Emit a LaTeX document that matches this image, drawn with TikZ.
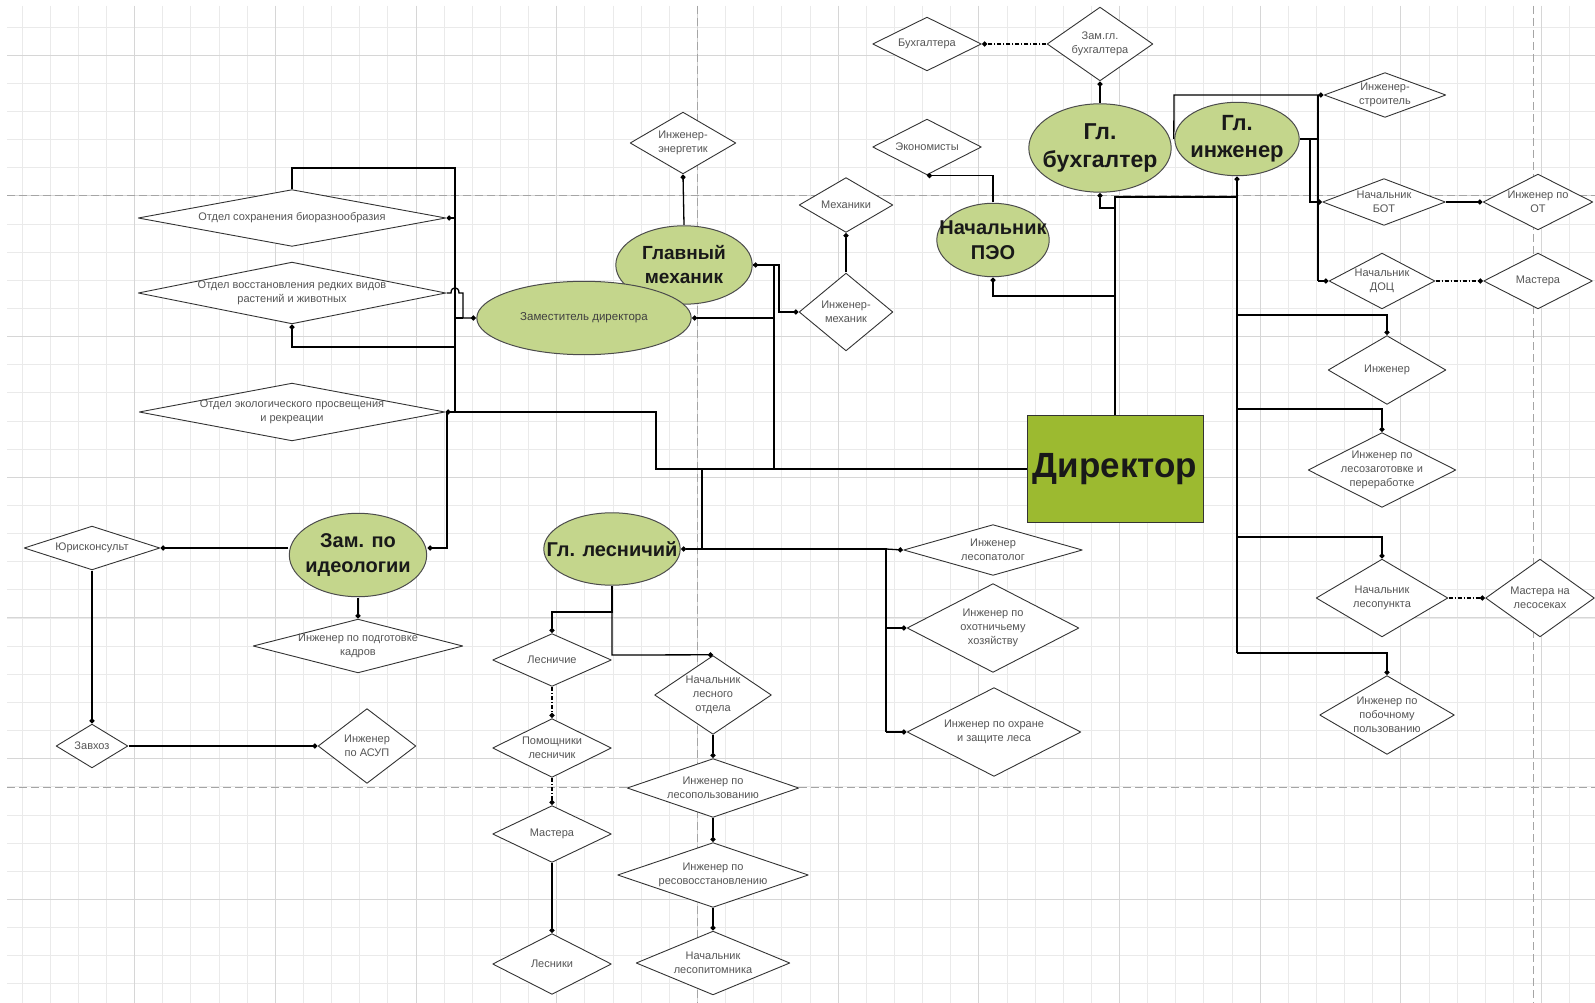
\documentclass[tikz,border=0pt]{standalone}
\usepackage{fontspec}
\setmainfont{Liberation Sans}
\usetikzlibrary{shapes.geometric, arrows.meta, calc}
\definecolor{ellfill}{RGB}{196,214,140}
\definecolor{dirfill}{RGB}{156,186,48}
\definecolor{txtgray}{RGB}{85,85,85}
\definecolor{gridminor}{RGB}{234,234,234}
\definecolor{gridmajor}{RGB}{214,214,214}
\definecolor{pagebreak}{RGB}{165,165,165}
\newcommand\smallfnt{\fontsize{11}{14}\selectfont}
\begin{document}
\begin{tikzpicture}[x=1pt,y=-1pt,
 dia/.style 2 args={rectangle, inner sep=0pt, minimum width=#1pt, minimum height=#2pt, align=center, font=\smallfnt, text=txtgray,
   path picture={\draw[line width=0.9pt, line join=round, draw=black!80, fill=white]
     ([yshift=-0.8pt]path picture bounding box.north) -- ([xshift=-0.8pt]path picture bounding box.east) -- ([yshift=0.8pt]path picture bounding box.south) -- ([xshift=0.8pt]path picture bounding box.west) -- cycle;}},
 ell/.style 2 args={rectangle, inner sep=0pt, minimum width=#1pt, minimum height=#2pt, align=center, text=black!90,
   path picture={\draw[line width=1pt, draw=black!70, fill=ellfill] let \p1=(path picture bounding box.north east), \p2=(path picture bounding box.center) in (\p2) ellipse ({\x1-\x2-0.8pt} and {\y1-\y2-0.8pt});}},
 conn/.style={line width=1.3pt, -{Circle[length=5pt]}},
 plain/.style={line width=1.3pt},
 dconn/.style={conn, dash pattern=on 4pt off 2pt on 1pt off 2pt},
 gmin/.style={draw=gridminor, line width=0.8pt},
 gmaj/.style={draw=gridmajor, line width=0.9pt},
 pbreak/.style={draw=pagebreak, line width=0.9pt, dash pattern=on 8pt off 4pt},
]
\useasboundingbox (0,0) rectangle (1595,1003);
\fill[white] (0,0) rectangle (1595,1003);
% grid
\foreach \k in {0,...,56} {\pgfmathsetmacro\xx{22+28.14*\k} \draw[gmin] (\xx,6) -- (\xx,1003);}
\foreach \k in {0,...,35} {\pgfmathsetmacro\yy{27+28.14*\k} \draw[gmin] (7,\yy) -- (1595,\yy);}
\foreach \k in {4,9,...,54} {\pgfmathsetmacro\xx{22+28.14*\k} \draw[gmaj] (\xx,6) -- (\xx,1003);}
\foreach \k in {1,6,...,31} {\pgfmathsetmacro\yy{27+28.14*\k} \draw[gmaj] (7,\yy) -- (1595,\yy);}
\draw[pbreak] (7,195) -- (1595,195);
\draw[pbreak] (7,787) -- (1595,787);
\draw[pbreak] (697,6) -- (697,1003);
\draw[pbreak] (1533,6) -- (1533,1003);

% ---------- nodes ----------
\node[dia={110}{55}] (buh) at (927,44) {Бухгалтера};
\node[dia={107}{75}] (zambuh) at (1100,44) {Зам.гл.\\бухгалтера};
\node[ell={144}{90}, font=\fontsize{23}{28}\selectfont\bfseries] (glbuh) at (1100,148) {Гл.\\бухгалтер};
\node[ell={126}{75}, font=\fontsize{22}{27}\selectfont\bfseries] (glinzh) at (1237,139) {Гл.\\инженер};
\node[dia={110}{57}] (econ) at (927,147) {Экономисты};
\node[ell={114}{75}, font=\fontsize{20}{25}\selectfont\bfseries] (peo) at (993,240) {Начальник\\ПЭО};

\node[dia={123}{46}] (inzhstr) at (1385,95) {Инженер-\\строитель};
\node[dia={124}{48}] (bot) at (1384,202) {Начальник\\БОТ};
\node[dia={111}{57}] (ot) at (1538,202) {Инженер по\\ОТ};
\node[dia={107}{57}] (doc) at (1382,281) {Начальник\\ДОЦ};
\node[dia={110}{57}] (mast1) at (1538,281) {Мастера};
\node[dia={119}{70}] (inzh) at (1387,370) {Инженер};
\node[dia={149}{76}] (lesozag) at (1382,470) {Инженер по\\лесозаготовке и\\переработке};
\node[dia={133}{79}] (lesopunkt) at (1382,598) {Начальник\\лесопункта};
\node[dia={110}{79}] (mastles) at (1540,598) {Мастера на\\лесосеках};
\node[dia={136}{80}] (poboch) at (1387,715) {Инженер по\\побочному\\пользованию};

\node[draw=black!80, line width=1pt, fill=dirfill, minimum width=176pt, minimum height=107pt, inner sep=0pt, font=\fontsize{35}{40}\selectfont\bfseries, text=black!90] (director) at (1115,469) {Директор};

\node[dia={309}{58}] (bio) at (292,218) {Отдел сохранения биоразнообразия};
\node[dia={309}{63}] (vosst) at (292,293) {Отдел восстановления редких видов\\растений и животных};
\node[dia={307}{59}] (ekol) at (292,412) {Отдел экологического просвещения\\и рекреации};

\node[ell={138}{80}, font=\fontsize{19}{24}\selectfont\bfseries] (glmeh) at (684,265) {Главный\\механик};
\node[ell={216}{75}, font=\fontsize{11.5}{14}\selectfont, text=black!75] (zamdir) at (584,318) {Заместитель директора};
\node[dia={107}{63}] (energ) at (683,143) {Инженер-\\энергетик};
\node[dia={95}{56}] (mehaniki) at (846,205) {Механики};
\node[dia={95}{79}] (inzhmeh) at (846,312) {Инженер-\\механик};

\node[ell={138}{74}, font=\fontsize{20}{24}\selectfont\bfseries] (lesnich) at (612,549) {Гл. лесничий};
\node[dia={180}{52}] (lesopat) at (993,550) {Инженер\\лесопатолог};
\node[dia={173}{90}] (ohot) at (993,628) {Инженер по\\охотничьему\\хозяйству};
\node[dia={175}{90}] (ohrana) at (994,732) {Инженер по охране\\и защите леса};

\node[dia={137}{45}] (yurist) at (92,548) {Юрисконсульт};
\node[ell={139}{85}, font=\fontsize{20}{25}\selectfont\bfseries] (zamid) at (358,555) {Зам. по\\идеологии};
\node[dia={211}{55}] (kadry) at (358,646) {Инженер по подготовке\\кадров};
\node[dia={73}{45}] (zavhoz) at (92,746) {Завхоз};
\node[dia={99}{76}] (asup) at (367,746) {Инженер\\по АСУП};

\node[dia={120}{54}] (lesnichie) at (552,660) {Лесничие};
\node[dia={120}{60}] (pomosh) at (552,748) {Помощники\\лесничик};
\node[dia={120}{58}] (mastera2) at (552,834) {Мастера};
\node[dia={120}{62}] (lesniki) at (552,964) {Лесники};
\node[dia={118}{80}] (lesotdel) at (713,695) {Начальник\\лесного\\отдела};
\node[dia={173}{60}] (lesopolz) at (713,788) {Инженер по\\лесопользованию};
\node[dia={192}{66}] (lesovos) at (713,875) {Инженер по\\ресовосстановлению};
\node[dia={155}{65}] (pitomnik) at (713,963) {Начальник\\лесопитомника};

% ---------- junction coordinates ----------
\coordinate (jd1) at (1115,197);
\coordinate (jd2) at (1115,208);
\coordinate (jd3) at (1115,296);
\coordinate (jd4) at (1237,197);
\coordinate (jg1) at (1237,315);
\coordinate (jg2) at (1237,409);
\coordinate (jg3) at (1237,537);
\coordinate (jg4) at (1237,653);
\coordinate (jl1) at (656,469);
\coordinate (jl2) at (774,469);
\coordinate (jl3) at (774,265);
\coordinate (jl4) at (774,318);
\coordinate (jl5) at (702,469);
\coordinate (jl6) at (702,549);
\coordinate (jl7) at (886,549);
\coordinate (jl8) at (886,628);
\coordinate (jl9) at (886,732);
\coordinate (jm1) at (779,265);
\coordinate (jz1) at (455,168);
\coordinate (jz2) at (455,218);
\coordinate (jz3) at (455,318);
\coordinate (jz4) at (455,347);
\coordinate (jz5) at (455,412);
\coordinate (jz6) at (447,412);
\coordinate (jz7) at (447,548);
\coordinate (jh1) at (451,293);
\coordinate (jh2) at (459,293);
\coordinate (jh3) at (463,293);
\coordinate (jh4) at (463,318);
\coordinate (jn0) at (1318,95);
\coordinate (jn1) at (1318,139);
\coordinate (jn2) at (1310,139);
\coordinate (jn3) at (1310,202);
\coordinate (jn4) at (1318,281);
\coordinate (jn5) at (1174,95);
\coordinate (jf1) at (612,612);
\coordinate (jf2) at (612,655);

% ---------- connectors ----------
% accounting
\draw[dconn] (zambuh.west) -- (buh.east);
\draw[conn] (glbuh.north) -- (zambuh.south);
\draw[conn] (peo.north) -- (peo.north |- econ.south) -- (econ.south);
% director top
\draw[conn] (director.north) -- (jd1) -- (jd4) -- (glinzh.south);
\draw[conn] (jd2) -| (glbuh.south);
\draw[conn] (jd3) -| (peo.south);
% chief engineer
\draw[plain] (jd4) -- (jg4);
\draw[conn] (jg1) -| (inzh.north);
\draw[conn] (jg2) -| (lesozag.north);
\draw[conn] (jg3) -| (lesopunkt.north);
\draw[conn] (jg4) -| (poboch.north);
\draw[dconn] (lesopunkt.east) -- (mastles.west);
\draw[conn] (glinzh.west) -- (jn5) -- (inzhstr.west);
\draw[plain] (glinzh.east) -- (jn1);
\draw[plain] (jn0) -- (jn4);
\draw[conn] (jn4) -- (doc.west);
\draw[conn] (jn2) -- (jn3) -- (bot.west);
\draw[conn] (bot.east) -- (ot.west);
\draw[dconn] (doc.east) -- (mast1.west);
% director left
\draw[conn] (director.west) -- (jl1) |- (ekol.east);
\draw[conn] (jl2) -- (jl3) -- (glmeh.east);
\draw[conn] (jl4) -- (zamdir.east);
\draw[conn] (glmeh.east) -- (jm1) |- (inzhmeh.west);
\draw[conn] (glmeh.north) -- (energ.south);
\draw[conn] (inzhmeh.north) -- (mehaniki.south);
% forestry
\draw[conn] (jl5) -- (jl6) -- (lesnich.east);
\draw[plain] (jl6) -- (jl7) -- (jl9);
\draw[conn] (jl7) -- (lesopat.west);
\draw[conn] (jl8) -- (ohot.west);
\draw[conn] (jl9) -- (ohrana.west);
\draw[conn] (lesnich.south) -- (jf1) -| (lesnichie.north);
\draw[conn] (jf1) -- (jf2) -- (lesotdel.north);
\draw[dconn] (lesnichie.south) -- (pomosh.north);
\draw[dconn] (pomosh.south) -- (mastera2.north);
\draw[conn] (mastera2.south) -- (lesniki.north);
\draw[conn] (lesotdel.south) -- (lesopolz.north);
\draw[conn] (lesopolz.south) -- (lesovos.north);
\draw[conn] (lesovos.south) -- (pitomnik.north);
% deputy director departments
\draw[plain] (bio.north) -- (bio.north |- jz1) -- (jz1) -- (jz5);
\draw[conn] (jz2) -- (bio.east);
\draw[conn] (jz4) -| (vosst.south);
\draw[conn] (vosst.east) -- (jh1) .. controls (451,286) and (459,286) .. (jh2) -- (jh3) -- (jh4) -- (zamdir.west);
\draw[plain] (jz3) -- (jh4);
% ideology
\draw[conn] (jz6) -- (jz7) -- (zamid.east |- jz7);
\draw[conn] (zamid.west |- yurist.east) -- (yurist.east);
\draw[conn] (zamid.south) -- (kadry.north);
\draw[conn] (yurist.south) -- (zavhoz.north);
\draw[conn] (zavhoz.east) -- (asup.west);
\end{tikzpicture}
\end{document}
